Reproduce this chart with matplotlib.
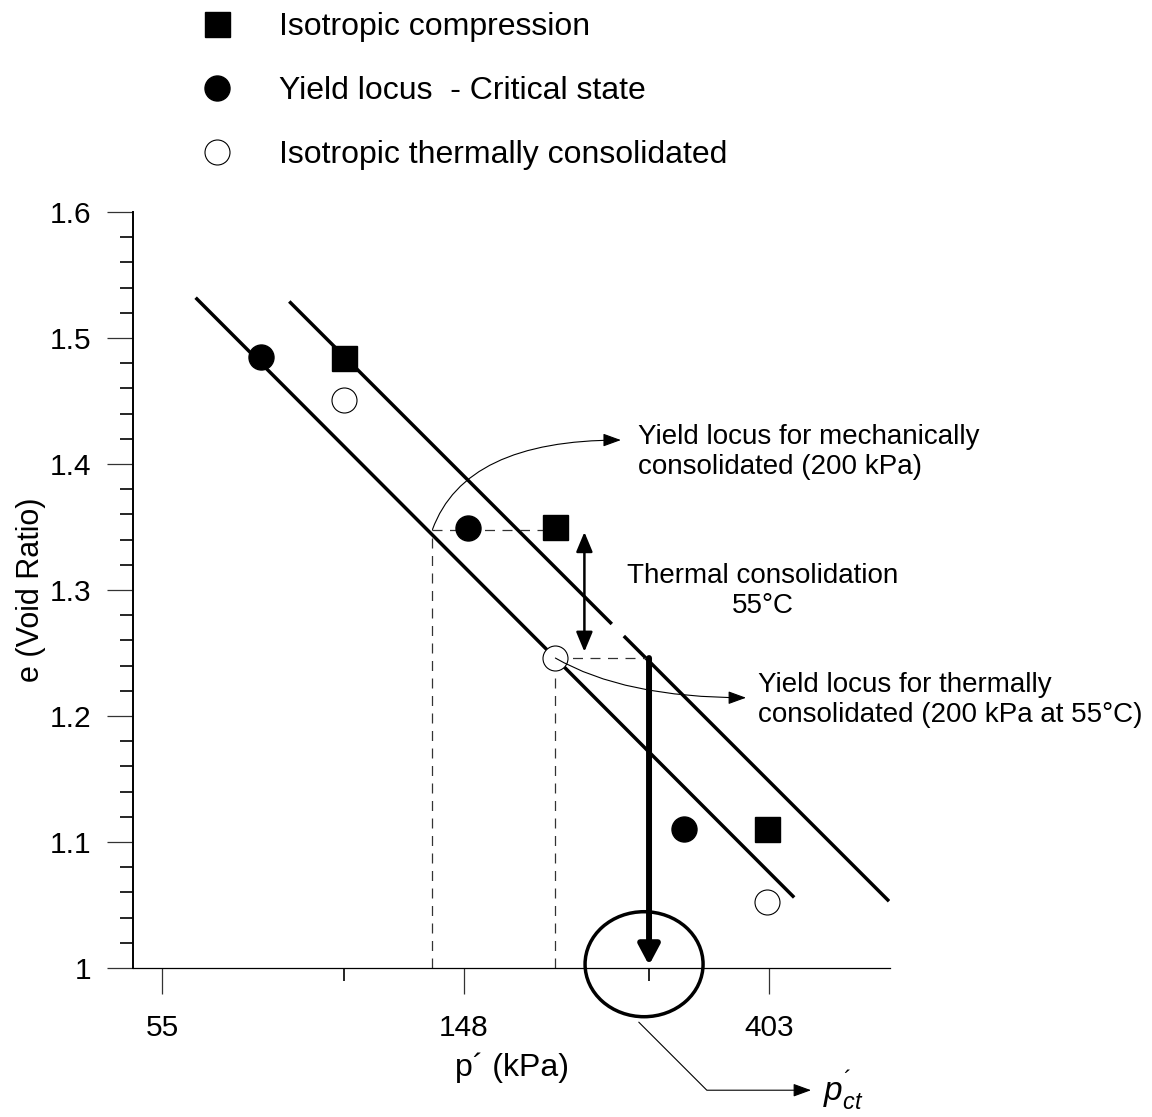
import numpy as np
import matplotlib.pyplot as plt
import matplotlib as mpl
import matplotlib.transforms as mtransforms
from matplotlib.patches import Ellipse
from matplotlib.ticker import FixedLocator, NullFormatter

mpl.rcParams.update({'font.family': 'Liberation Sans', 'font.size': 20,
                     'mathtext.fontset': 'custom',
                     'mathtext.rm': 'Liberation Sans',
                     'mathtext.it': 'Liberation Sans:italic'})

# measured points: mean effective stress p' (kPa) and void ratio e
p_iso = [100, 200, 400]
e_iso = [1.484, 1.350, 1.110]
p_cs = [76, 150, 305]
e_cs = [1.485, 1.349, 1.110]
p_thermal = [100, 200, 400]
e_thermal = [1.451, 1.246, 1.052]

# yield loci, straight lines in e - ln p'
p_locus_low = [61.4, 438]
e_locus_low = [1.532, 1.056]
p_locus_up = [83.5, 598]
e_locus_up = [1.529, 1.053]
locus_up_gap = [240.7, 250.4]

# construction values
p_mech = 133.6       # mechanically consolidated yield stress
e_mech = 1.348
p_tc = 200           # thermally consolidated sample
e_tc = 1.246
p_ct = 272           # p'_ct
p_arrow = 220        # thermal consolidation step
e_arrow = [1.346, 1.251]

x_ticks = [55, 148, 403]
x_minor = [100, p_ct]
y_ticks = [1.0, 1.1, 1.2, 1.3, 1.4, 1.5, 1.6]
y_ticklabels = ['1', '1.1', '1.2', '1.3', '1.4', '1.5', '1.6']


def locus_e(p, p_end, e_end):
    return np.interp(np.log(p), np.log(p_end), e_end)


fig = plt.figure(figsize=(11.52, 11.17), dpi=100)
ax = fig.add_axes([0.1155, 0.1334, 0.6571, 0.6768])
ax.set_xscale('log')
ax.set_xlim(50, 600)
ax.set_ylim(1.0, 1.6)

# yield loci
ax.plot(p_locus_low, e_locus_low, color='k', lw=2.5, solid_capstyle='butt')
seg1 = [p_locus_up[0], locus_up_gap[0]]
seg2 = [locus_up_gap[1], p_locus_up[1]]
for seg in (seg1, seg2):
    ax.plot(seg, locus_e(seg, p_locus_up, e_locus_up), color='k', lw=2.5,
            solid_capstyle='butt')

# dashed construction lines
dash = dict(color='#333333', lw=0.9, dashes=(8, 6))
ax.plot([p_mech, p_mech], [1.0, e_mech], **dash)
ax.plot([p_mech, p_iso[1]], [e_mech, e_mech], **dash)
ax.plot([p_tc, p_tc], [1.0, e_tc], **dash)
ax.plot([p_tc, p_ct], [e_tc, e_tc], **dash)

# data points
ax.plot(p_iso, e_iso, 's', color='k', ms=18, ls='none',
        label='Isotropic compression')
ax.plot(p_cs, e_cs, 'o', color='k', ms=18, ls='none',
        label='Yield locus  - Critical state')
ax.plot(p_thermal, e_thermal, 'o', mfc='white', mec='k', mew=0.8, ms=18,
        ls='none', label='Isotropic thermally consolidated')

# thermal consolidation double arrow
ax.annotate('', xy=(p_arrow, e_arrow[0]), xytext=(p_arrow, e_arrow[1]),
            arrowprops=dict(arrowstyle='<|-|>,head_length=0.6,head_width=0.25',
                            lw=1.8, color='k', mutation_scale=20,
                            shrinkA=0, shrinkB=0))
ax.text(394.6, 1.299, 'Thermal consolidation\n55\u00b0C', ha='center',
        va='center', multialignment='center', fontsize=20)

# thick arrow down to p'_ct
ax.annotate('', xy=(p_ct, 1.0), xytext=(p_ct, e_tc),
            arrowprops=dict(arrowstyle='-|>,head_length=0.6,head_width=0.32',
                            lw=4.3, color='k', mutation_scale=20,
                            shrinkA=0, shrinkB=2),
            annotation_clip=False)

thin = dict(arrowstyle='-|>,head_length=0.55,head_width=0.2', lw=0.8,
            color='k', mutation_scale=20, shrinkA=0, shrinkB=0)

ax.annotate('', xy=(248, 1.419), xytext=(p_mech, e_mech),
            arrowprops=dict(connectionstyle='angle3,angleA=70,angleB=0', **thin))
ax.text(262, 1.4095, 'Yield locus for mechanically\nconsolidated (200 kPa)',
        ha='left', va='center', fontsize=20)

ax.annotate('', xy=(374, 1.2145), xytext=(p_tc, e_tc),
            arrowprops=dict(connectionstyle='angle3,angleA=-30,angleB=0', **thin))
ax.text(389.6, 1.2127,
        'Yield locus for thermally\nconsolidated (200 kPa at 55\u00b0C)',
        ha='left', va='center', fontsize=20, clip_on=False)

# circle marking p'_ct on the axis
circ_tr = fig.dpi_scale_trans + mtransforms.ScaledTranslation(267.6, 1.003,
                                                               ax.transData)
ax.add_patch(Ellipse((0, 0), 1.18, 1.05, transform=circ_tr, fill=False,
                     ec='k', lw=2.5, clip_on=False))
ax.annotate('', xy=(463, 0.903), xytext=(263, 0.957),
            arrowprops=dict(connectionstyle='angle,angleA=-45,angleB=0,rad=0',
                            **thin),
            annotation_clip=False)
ax.text(482, 0.903, "$p^{\u00b4}_{ct}$", fontsize=24, ha='left',
        va='center', clip_on=False)

# axes styling
for side in ('top', 'right'):
    ax.spines[side].set_visible(False)
ax.spines['left'].set_linewidth(1.4)
ax.spines['bottom'].set_linewidth(0.9)

ax.set_xticks(x_ticks)
ax.set_xticklabels([str(v) for v in x_ticks])
ax.xaxis.set_minor_locator(FixedLocator(x_minor))
ax.xaxis.set_minor_formatter(NullFormatter())
ax.set_yticks(y_ticks)
ax.set_yticklabels(y_ticklabels)
ax.yaxis.set_minor_locator(FixedLocator(np.arange(1.0, 1.6, 0.02)))
ax.tick_params(axis='both', which='major', direction='out', length=19,
               width=0.9, labelsize=21.5, color='#333333')
ax.tick_params(axis='both', which='minor', direction='out', length=9.5,
               width=1.2, color='k')
ax.tick_params(axis='x', which='major', pad=14)
ax.tick_params(axis='y', which='major', pad=11)

ax.set_xlabel('p\u00b4 (kPa)', fontsize=23, labelpad=8)
ax.set_ylabel('e (Void Ratio)', fontsize=22, labelpad=3)

ax.legend(loc='upper left', bbox_to_anchor=(202 / 1152, 1 - 12 / 1117),
          bbox_transform=fig.transFigure, frameon=False, fontsize=23,
          handlelength=0.96, handletextpad=1.45, labelspacing=1.06,
          borderpad=0, borderaxespad=0, numpoints=1)

fig.savefig('out.png', dpi=100)
